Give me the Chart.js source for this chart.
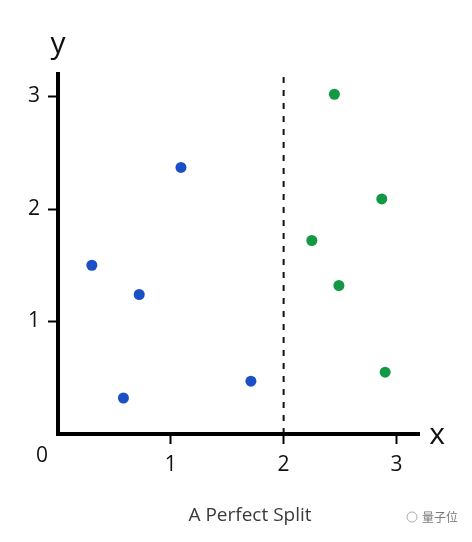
<!DOCTYPE html>
<html>
<head>
<meta charset="utf-8">
<script src="https://cdn.jsdelivr.net/npm/chart.js@4.4.1/dist/chart.umd.min.js"></script>
<style>
  html, body { margin: 0; padding: 0; background: #fff; }
  #wrap { width: 472px; height: 542px; }
</style>
</head>
<body>
<div id="wrap"><canvas id="myChart" width="472" height="542"></canvas></div>
<script>
// 数据点（从图上读出来的）
const blueX = [0.30, 0.72, 0.58, 1.09, 1.71];
const blueY = [1.50, 1.24, 0.32, 2.37, 0.47];
const greenX = [2.45, 2.87, 2.25, 2.49, 2.90];
const greenY = [3.02, 2.09, 1.72, 1.32, 0.55];
const splitX = 2;            // 分割线位置
const tickValues = [1, 2, 3];
const axisMax = 3.2;

const FONT = '"Open Sans", "Noto Sans", sans-serif';

const toPoints = (xs, ys) => xs.map((x, i) => ({ x: x, y: ys[i] }));

// 画坐标轴名字、原点 0、标题和水印
const labelsPlugin = {
  id: 'labels',
  afterDraw(chart) {
    const c = chart.ctx;
    const xs = chart.scales.x, ys = chart.scales.y;
    const x0 = xs.getPixelForValue(0), y0 = ys.getPixelForValue(0);
    c.save();
    c.fillStyle = '#111';
    c.textAlign = 'center';
    c.textBaseline = 'middle';
    c.font = '30px ' + FONT;
    c.fillText('y', x0, 44);
    c.fillText('x', xs.right + 18, y0 + 1);
    c.font = '21px ' + FONT;
    c.fillText('0', x0 - 16, y0 + 22);
    c.fillStyle = '#3a3a3a';
    c.font = '19px ' + FONT;
    c.fillText('A Perfect Split', 250, 516);
    c.fillStyle = '#777';
    c.font = '12px "Noto Sans CJK SC", sans-serif';
    c.fillText('量子位', 440, 517);
    c.strokeStyle = '#aaa';
    c.lineWidth = 1;
    c.beginPath();
    c.arc(412, 517, 5, 0, Math.PI * 2);
    c.stroke();
    c.restore();
  }
};

window.addEventListener('DOMContentLoaded', () => {
  const ctx = document.getElementById('myChart').getContext('2d');
  new Chart(ctx, {
    type: 'scatter',
    data: {
      datasets: [
        {
          label: 'blue',
          data: toPoints(blueX, blueY),
          backgroundColor: '#1a4fc8',
          borderWidth: 0,
          pointRadius: 5.5
        },
        {
          label: 'green',
          data: toPoints(greenX, greenY),
          backgroundColor: '#139944',
          borderWidth: 0,
          pointRadius: 5.5
        },
        {
          type: 'line',
          label: 'split',
          data: [{ x: splitX, y: 0 }, { x: splitX, y: axisMax }],
          borderColor: '#111',
          borderWidth: 2,
          borderDash: [6, 7],
          pointRadius: 0
        }
      ]
    },
    options: {
      responsive: false,
      animation: false,
      layout: { padding: { top: 74, right: 53, left: 0, bottom: 0 } },
      plugins: {
        legend: { display: false },
        tooltip: { enabled: false }
      },
      scales: {
        x: {
          type: 'linear',
          min: 0,
          max: axisMax,
          afterFit(scale) { scale.height = 108; },
          afterBuildTicks(scale) { scale.ticks = tickValues.map(v => ({ value: v })); },
          border: { display: true, color: '#000', width: 4 },
          grid: { drawOnChartArea: false, drawTicks: true, tickLength: 10, tickWidth: 2, color: '#000' },
          ticks: { color: '#111', font: { family: FONT, size: 21 }, padding: 8, maxRotation: 0 }
        },
        y: {
          type: 'linear',
          min: 0,
          max: axisMax,
          afterFit(scale) { scale.width = 58; },
          afterBuildTicks(scale) { scale.ticks = tickValues.map(v => ({ value: v })); },
          border: { display: true, color: '#000', width: 4 },
          grid: { drawOnChartArea: false, drawTicks: true, tickLength: 10, tickWidth: 2, color: '#000' },
          ticks: { color: '#111', font: { family: FONT, size: 21 }, padding: 8 }
        }
      }
    },
    plugins: [labelsPlugin]
  });
});
</script>
</body>
</html>
